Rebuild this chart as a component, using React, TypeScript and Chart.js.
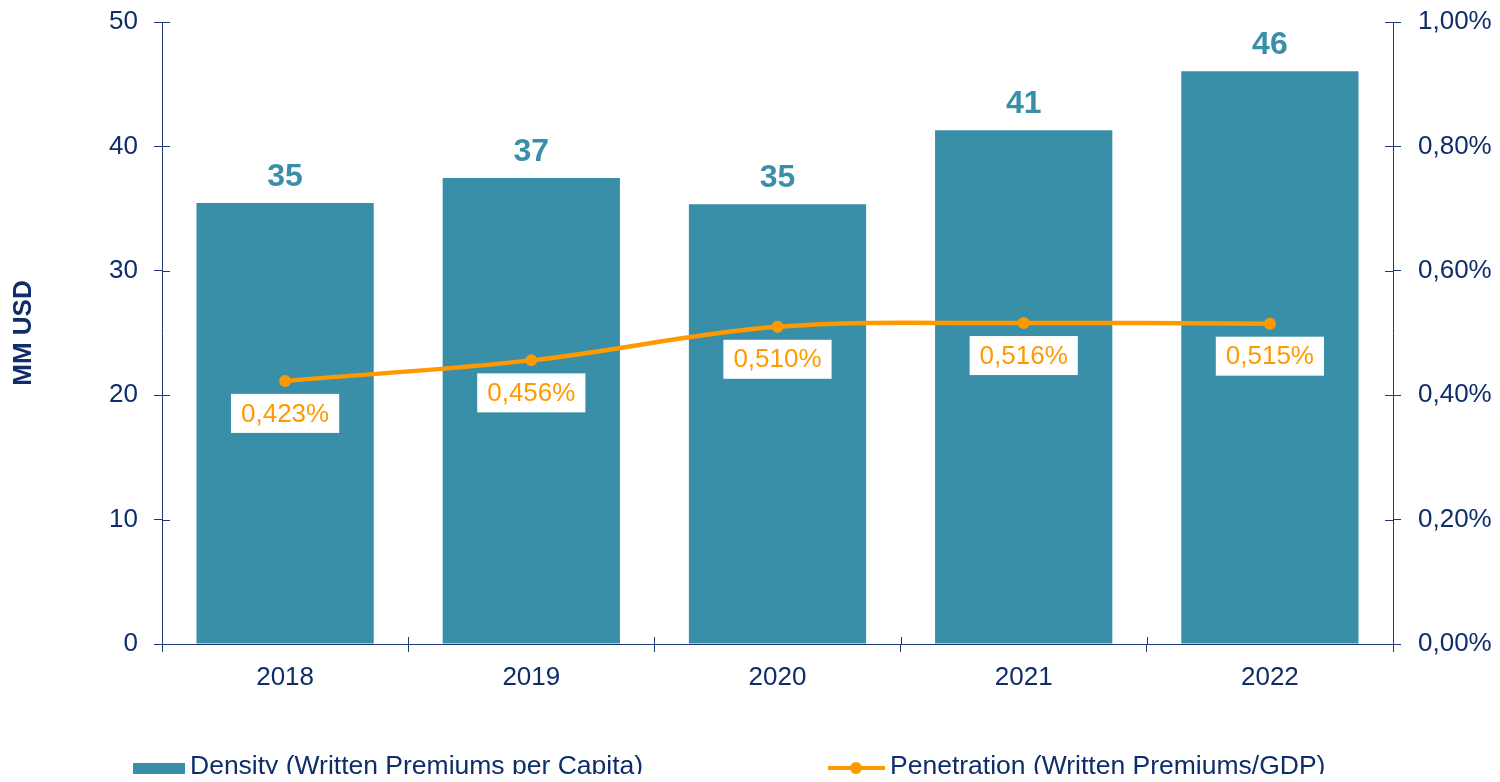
import React, { useEffect, useRef } from "react";
import { Chart, registerables } from "chart.js";

Chart.register(...registerables);

const categories = ["2018", "2019", "2020", "2021", "2022"];
const densityValues = [35.45, 37.45, 35.35, 41.3, 46.05];
const penetrationValues = [0.423, 0.456, 0.51, 0.516, 0.515];
const densityLabel = "Density (Written Premiums per Capita)";
const penetrationLabel = "Penetration (Written Premiums/GDP)";
const yTitle = "MM USD";

const BAR = "#3A8FA8";
const ORANGE = "#FF9900";
const NAVY = "#0F2D6B";
const AXIS = "#1E3878";
const FONT = "'Liberation Sans', Arial, sans-serif";

const W = 1484;
const H = 774;

const fmtPct = (v: number, d: number) => v.toFixed(d).replace(".", ",") + "%";

const labelsPlugin = {
  id: "customLabels",
  afterDatasetsDraw(chart: any) {
    const ctx = chart.ctx;
    ctx.save();
    // bar labels
    const barMeta = chart.getDatasetMeta(1);
    ctx.font = `bold 32px ${FONT}`;
    ctx.fillStyle = BAR;
    ctx.textAlign = "center";
    ctx.textBaseline = "alphabetic";
    barMeta.data.forEach((el: any, i: number) => {
      ctx.fillText(densityValues[i].toFixed(0), el.x, el.y - 17);
    });
    // line labels
    const lineMeta = chart.getDatasetMeta(0);
    ctx.font = `26px ${FONT}`;
    lineMeta.data.forEach((el: any, i: number) => {
      const txt = fmtPct(penetrationValues[i], 3);
      const w = ctx.measureText(txt).width + 20;
      const h = 39;
      const top = el.y + 13;
      ctx.fillStyle = "#FFFFFF";
      ctx.fillRect(el.x - w / 2, top, w, h);
      ctx.fillStyle = ORANGE;
      ctx.textBaseline = "middle";
      ctx.fillText(txt, el.x, top + h / 2 + 1);
    });
    ctx.restore();
  },
  afterDraw(chart: any) {
    const ctx = chart.ctx;
    const { left, right, bottom } = chart.chartArea;
    ctx.save();
    // inner half of cross ticks
    ctx.strokeStyle = AXIS;
    ctx.lineWidth = 1;
    ctx.beginPath();
    const yl = chart.scales.y;
    yl.ticks.forEach((t: any) => {
      const py = Math.round(yl.getPixelForValue(t.value)) + 0.5;
      ctx.moveTo(left, py);
      ctx.lineTo(left + 8, py);
    });
    const yr = chart.scales.y1;
    yr.ticks.forEach((t: any) => {
      const py = Math.round(yr.getPixelForValue(t.value)) + 0.5;
      ctx.moveTo(right - 8, py);
      ctx.lineTo(right, py);
    });
    const n = categories.length;
    for (let i = 0; i <= n; i++) {
      const px = Math.round(left + (i * (right - left)) / n) + 0.5;
      ctx.moveTo(px, bottom - 7);
      ctx.lineTo(px, bottom);
    }
    ctx.stroke();

    // legend
    const ly = 759;
    ctx.font = `26.5px ${FONT}`;
    ctx.textAlign = "left";
    ctx.textBaseline = "middle";
    // bar item
    ctx.fillStyle = BAR;
    ctx.fillRect(125, ly - 4, 52, 12);
    ctx.fillStyle = NAVY;
    ctx.fillText(densityLabel, 182, ly);
    // line item
    ctx.strokeStyle = ORANGE;
    ctx.lineWidth = 4;
    ctx.beginPath();
    ctx.moveTo(820, ly + 1);
    ctx.lineTo(877, ly + 1);
    ctx.stroke();
    ctx.fillStyle = ORANGE;
    ctx.beginPath();
    ctx.arc(848, ly + 1, 6, 0, Math.PI * 2);
    ctx.fill();
    ctx.fillStyle = NAVY;
    ctx.fillText(penetrationLabel, 882, ly);
    ctx.restore();
  },
};

export default function App() {
  const ref = useRef<HTMLCanvasElement>(null);
  useEffect(() => {
    if (!ref.current) return;
    const chart = new Chart(ref.current, {
      data: {
        labels: categories,
        datasets: [
          {
            type: "line",
            label: penetrationLabel,
            data: penetrationValues,
            yAxisID: "y1",
            borderColor: ORANGE,
            backgroundColor: ORANGE,
            borderWidth: 4.5,
            pointRadius: 6,
            pointBackgroundColor: ORANGE,
            pointBorderWidth: 0,
            tension: 0.35,
          } as any,
          {
            type: "bar",
            label: densityLabel,
            data: densityValues,
            yAxisID: "y",
            backgroundColor: BAR,
            categoryPercentage: 1,
            barPercentage: 0.72,
          } as any,
        ],
      },
      options: {
        animation: false,
        responsive: false,
        devicePixelRatio: 1,
        layout: { padding: { top: 14, left: 0, right: 0, bottom: 0 } },
        plugins: {
          legend: { display: false },
          tooltip: { enabled: false },
        },
        scales: {
          x: {
            type: "category",
            offset: true,
            grid: {
              display: true,
              offset: true,
              drawOnChartArea: false,
              drawTicks: true,
              tickLength: 8,
              color: AXIS,
            },
            border: { display: true, color: AXIS, width: 1 },
            ticks: {
              color: NAVY,
              font: { family: FONT, size: 26 },
              padding: 10,
            },
            afterFit: (s: any) => {
              s.height = 138;
            },
          },
          y: {
            position: "left",
            min: 0,
            max: 50,
            ticks: {
              stepSize: 10,
              color: NAVY,
              font: { family: FONT, size: 26 },
              padding: 16,
            },
            grid: {
              display: true,
              drawOnChartArea: false,
              drawTicks: true,
              tickLength: 8,
              color: AXIS,
            },
            border: { display: true, color: AXIS, width: 1 },
            title: {
              display: true,
              text: yTitle,
              color: NAVY,
              font: { family: FONT, size: 26, weight: "bold" },
              padding: { top: 0, bottom: 0 },
            },
            afterFit: (s: any) => {
              s.width = 154;
              s.paddingTop = 0;
              s.paddingBottom = 0;
            },
          },
          y1: {
            position: "right",
            min: 0,
            max: 1,
            ticks: {
              stepSize: 0.2,
              color: NAVY,
              font: { family: FONT, size: 26 },
              padding: 17,
              callback: (v: any) => fmtPct(Number(v), 2),
            },
            grid: {
              display: true,
              drawOnChartArea: false,
              drawTicks: true,
              tickLength: 8,
              color: AXIS,
            },
            border: { display: true, color: AXIS, width: 1 },
            afterFit: (s: any) => {
              s.width = 99;
              s.paddingTop = 0;
              s.paddingBottom = 0;
            },
          },
        },
      } as any,
      plugins: [labelsPlugin],
    });
    return () => chart.destroy();
  }, []);

  return (
    <div style={{ width: W, height: H, marginBottom: -8 }}>
      <canvas
        ref={ref}
        width={W}
        height={H}
        style={{ display: "block", width: W, height: H }}
      />
    </div>
  );
}
